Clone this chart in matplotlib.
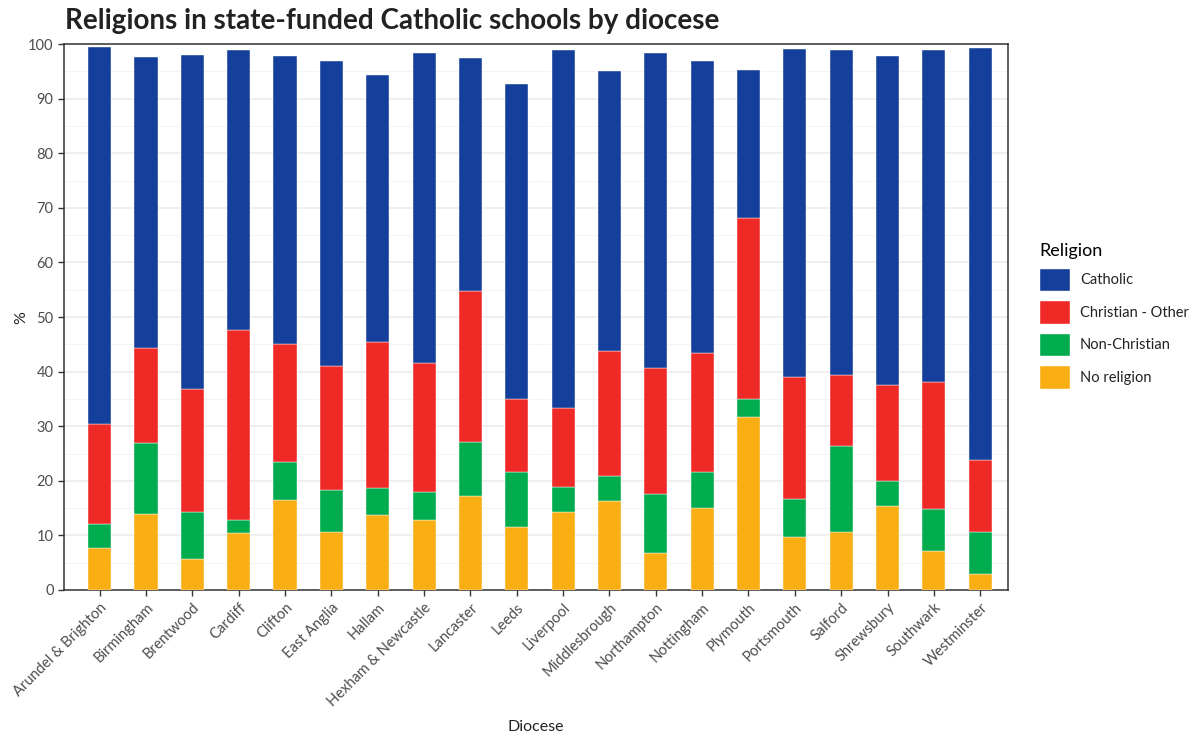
import numpy as np
import matplotlib.pyplot as plt
from matplotlib.patches import Patch

dioceses = ['Arundel & Brighton', 'Birmingham', 'Brentwood', 'Cardiff', 'Clifton',
            'East Anglia', 'Hallam', 'Hexham & Newcastle', 'Lancaster', 'Leeds',
            'Liverpool', 'Middlesbrough', 'Northampton', 'Nottingham', 'Plymouth',
            'Portsmouth', 'Salford', 'Shrewsbury', 'Southwark', 'Westminster']

no_religion = [7.6, 14.0, 5.7, 10.5, 16.5, 10.7, 13.7, 12.9, 17.3, 11.5,
               14.2, 16.3, 6.8, 15.0, 31.7, 9.7, 10.7, 15.3, 7.2, 3.0]
non_christian = [4.4, 13.0, 8.6, 2.3, 7.0, 7.6, 5.0, 5.0, 9.9, 10.1,
                 4.7, 4.5, 10.8, 6.7, 3.3, 6.9, 15.7, 4.6, 7.6, 7.7]
christian_other = [18.4, 17.4, 22.5, 34.9, 21.5, 22.8, 26.7, 23.6, 27.6, 13.3,
                   14.5, 23.0, 23.1, 21.7, 33.2, 22.5, 13.0, 17.6, 23.3, 13.2]
catholic = [69.0, 53.2, 61.3, 51.2, 52.9, 55.8, 48.9, 56.9, 42.6, 57.8,
            65.6, 51.2, 57.7, 53.5, 27.1, 60.1, 59.5, 60.3, 60.9, 75.4]

series = [('No religion', no_religion, '#F9AE13'),
          ('Non-Christian', non_christian, '#00AC4E'),
          ('Christian - Other', christian_other, '#EF2A26'),
          ('Catholic', catholic, '#143F9A')]

plt.rcParams['font.family'] = ['Lato', 'DejaVu Sans']

fig = plt.figure(figsize=(11.97, 7.36), dpi=100)
ax = fig.add_axes([0.0535, 0.1984, 0.7886, 0.7416])

x = np.arange(len(dioceses))
bottom = np.zeros(len(dioceses))
for name, vals, col in series:
    vals = np.array(vals)
    ax.bar(x, vals, width=0.5, bottom=bottom, color=col, edgecolor='#ffffff',
           linewidth=0.3, zorder=3)
    bottom += vals

ax.set_ylim(0, 100)
ax.set_xlim(-0.77, 19.6)
ax.set_yticks(np.arange(0, 101, 10))
ax.set_yticks(np.arange(5, 100, 10), minor=True)
ax.yaxis.grid(True, which='major', color='#ebebeb', linewidth=1.1, zorder=0)
ax.yaxis.grid(True, which='minor', color='#f2f2f2', linewidth=0.6, zorder=0)
ax.set_xticks(x)
ax.set_xticklabels(dioceses, rotation=45, ha='right', rotation_mode='anchor')
ax.tick_params(axis='both', colors='#333333', labelcolor='#4d4d4d', labelsize=10.5,
               length=4, width=1)
ax.tick_params(axis='y', which='minor', length=0)
for sp in ax.spines.values():
    sp.set_color('#333333')
    sp.set_linewidth(1.1)

ax.set_ylabel('%', fontsize=11.5, color='#222222', labelpad=0)
ax.set_xlabel('Diocese', fontsize=11.5, color='#222222', labelpad=8)
fig.text(0.054, 0.9606, 'Religions in state-funded Catholic schools by diocese',
         fontsize=20, fontweight='bold', color='#222222', va='baseline')

handles = [Patch(facecolor=c, edgecolor='#ffffff', label=n) for n, v, c in series[::-1]]
leg = fig.legend(handles=handles, title='Religion', loc='upper left',
                 bbox_to_anchor=(0.857, 0.688), frameon=False, fontsize=10.5,
                 title_fontsize=13, handlelength=2.1, handleheight=2.1,
                 labelspacing=0.62, handletextpad=0.7)
leg._legend_box.align = 'left'
for t in leg.get_texts():
    t.set_color('#222222')

fig.savefig('out.png', dpi=100)
